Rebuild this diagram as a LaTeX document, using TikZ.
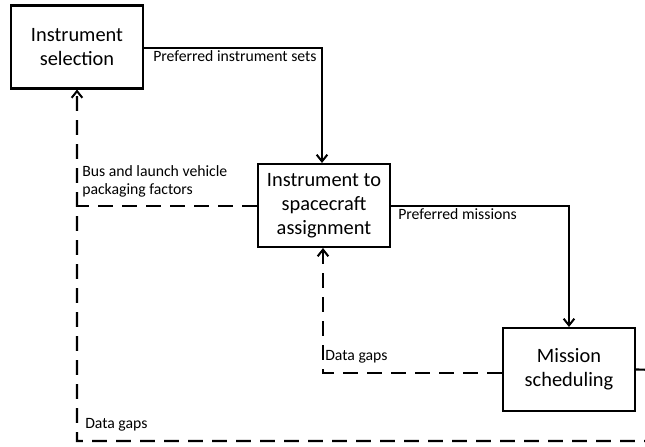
\documentclass[tikz,border=0pt]{standalone}
\usepackage{fontspec}
\setmainfont{Carlito}
\usetikzlibrary{arrows.meta}
\begin{document}
\begin{tikzpicture}[x=0.75pt,y=-0.75pt,
  blk/.style={draw,line width=1.8pt,minimum width=99pt,minimum height=62pt,align=center,font=\fontsize{15.3}{18}\selectfont,inner sep=0pt},
  lbl/.style={font=\fontsize{11.8}{14}\selectfont,inner sep=0pt,align=left},
  solidarr/.style={line width=1.5pt,-{Straight Barb[length=5pt,width=8pt,line width=1.5pt]}},
  dasharr/.style={line width=1.6pt,dash pattern=on 11pt off 7pt,-{Straight Barb[length=5pt,width=8pt,line width=1.5pt]}},
  dashln/.style={line width=1.6pt,dash pattern=on 11pt off 7pt}]
\useasboundingbox (0,0) rectangle (645,446);
\fill[white] (0,0) rectangle (645,446);
\clip (0,0) rectangle (645,446);
\node[blk] (sel) at (77,47) {Instrument\\selection};
\node[blk] (asg) at (324,205.5) {Instrument to\\spacecraft\\assignment};
\node[blk] (mis) at (569,369.5) {Mission\\scheduling};
\coordinate (c1) at (322,48);
\coordinate (c2) at (569,206);
\coordinate (c3) at (323,373);
\coordinate (c4) at (660,370);
\coordinate (c5) at (660,441);
\coordinate (c6) at (77,441);
\coordinate (c7) at (77,206);
% solid connectors
\draw[solidarr] (sel.east |- c1) -- (c1) -- (asg.north -| c1);
\draw[solidarr] (asg.east |- c2) -- (c2) -- (mis.north);
% dashed feedback
\draw[dasharr] (mis.west |- c3) -- (c3) -- (asg.south -| c3);
\draw[dasharr] (mis.east) -- (c4) -- (c5) -- (c6) -- (sel.south);
\draw[dashln] (asg.west |- c7) -- (c7);
% labels
\node[lbl,anchor=west] (l1) at (153,56) {Preferred instrument sets};
\node[lbl,anchor=west] (l2) at (398,214) {Preferred missions};
\node[lbl,anchor=west] (l3) at (325,357) {Data gaps};
\node[lbl,anchor=west] (l4) at (85,425) {Data gaps};
\node[lbl,anchor=north west] (l5) at (82,165) {Bus and launch vehicle\\packaging factors};
\end{tikzpicture}
\end{document}
